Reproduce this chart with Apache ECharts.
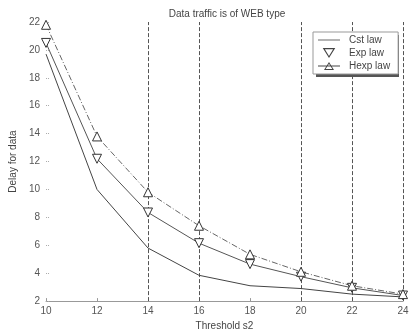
<!DOCTYPE html>
<html>
<head>
    <meta charset="utf-8">
</head>
<body style="margin:0">
    <div id="main" style="width: 412px;height:336px;"></div>
    <script src="https://cdn.jsdelivr.net/npm/echarts@6/dist/echarts.min.js"></script>
    <script type="text/javascript">
        var thresholdS2 = [10, 12, 14, 16, 18, 20, 22, 24];
        var cstLaw = [19.7, 10.0, 5.8, 3.85, 3.1, 2.9, 2.5, 2.3];
        var expLaw = [20.5, 12.2, 8.35, 6.15, 4.65, 3.75, 2.95, 2.4];
        var hexpLaw = [21.8, 13.8, 9.8, 7.4, 5.35, 4.1, 3.1, 2.5];
        var dashedLines = [14, 16, 20, 22, 24];

        var pairs = function (ys) {
            var res = [];
            for (var i = 0; i < thresholdS2.length; i++) {
                res.push([thresholdS2[i], ys[i]]);
            }
            return res;
        };

        // legend icons drawn as filled paths (hollow triangles use an inner reversed triangle)
        var iconLine = 'path://M0,4.6L0,5.4L22,5.4L22,4.6Z';
        var iconDown = 'path://M6,1L16,1L11,9Z M7.7,2L11,7.3L14.3,2Z';
        var iconUp = 'path://M0,4.6L0,5.4L22,5.4L22,4.6Z M6,9L16,9L11,1Z M7.7,8L11,2.7L14.3,8Z';

        var myChart = echarts.init(document.getElementById('main'));
        var txt = '#555';
        var font = 'Liberation Sans';

        var option = {
            animation: false,
            title: {
                text: 'Data traffic is of WEB type',
                left: 222,
                textAlign: 'center',
                top: 4,
                textStyle: { fontSize: 10, fontWeight: 'normal', color: '#444', fontFamily: font }
            },
            // drop shadow of the legend box
            graphic: [{
                type: 'rect',
                left: 316,
                top: 35,
                z: 20,
                shape: { width: 83, height: 42 },
                style: { fill: '#555' }
            }],
            legend: {
                orient: 'vertical',
                left: 313,
                top: 32,
                align: 'left',
                padding: [3, 8, 3, 5],
                itemGap: 3,
                itemWidth: 22,
                itemHeight: 10,
                z: 30,
                backgroundColor: '#fff',
                borderColor: '#999',
                borderWidth: 1,
                textStyle: { fontSize: 10, color: '#444', fontFamily: font, padding: [0, 0, 0, 4] },
                data: [
                    { name: 'Cst law', icon: iconLine, itemStyle: { color: '#444', borderWidth: 0 } },
                    { name: 'Exp law', icon: iconDown, itemStyle: { color: '#444', borderWidth: 0 } },
                    { name: 'Hexp law', icon: iconUp, itemStyle: { color: '#444', borderWidth: 0 } }
                ]
            },
            grid: { left: 41, right: 9, top: 22, bottom: 30 },
            xAxis: {
                type: 'value',
                min: 10, max: 24, interval: 2,
                name: 'Threshold s2',
                nameLocation: 'middle',
                nameGap: 17,
                nameTextStyle: { fontSize: 10, color: '#444', fontFamily: font },
                axisLine: { lineStyle: { color: '#999' } },
                axisTick: { inside: true, length: 3, lineStyle: { color: '#999' } },
                axisLabel: { fontSize: 10, color: txt, fontFamily: font, margin: 5 },
                splitLine: { show: false }
            },
            yAxis: {
                type: 'value',
                min: 2, max: 22, interval: 2,
                name: 'Delay for data',
                nameLocation: 'middle',
                nameGap: 25,
                nameTextStyle: { fontSize: 10, color: '#444', fontFamily: font },
                axisLine: { show: false },
                axisTick: { show: true, inside: true, length: 3, lineStyle: { color: '#aaa', type: 'dotted' } },
                axisLabel: { fontSize: 10, color: txt, fontFamily: font, margin: 6 },
                splitLine: { show: false }
            },
            series: [
                {
                    name: 'Cst law',
                    type: 'line',
                    z: 2,
                    data: pairs(cstLaw),
                    showSymbol: false,
                    symbol: 'none',
                    lineStyle: { color: '#444', width: 1 },
                    itemStyle: { color: '#444' },
                    markLine: {
                        silent: true,
                        symbol: 'none',
                        z: 1,
                        label: { show: false },
                        lineStyle: { color: '#555', type: [4, 2], width: 1 },
                        data: dashedLines.map(function (v) { return { xAxis: v }; })
                    }
                },
                {
                    name: 'Exp law',
                    type: 'line',
                    z: 2,
                    data: pairs(expLaw),
                    symbol: 'triangle',
                    symbolRotate: 180,
                    symbolSize: 9,
                    lineStyle: { color: '#555', width: 1 },
                    itemStyle: { color: '#fff', borderColor: '#333', borderWidth: 1 }
                },
                {
                    name: 'Hexp law',
                    type: 'line',
                    z: 2,
                    data: pairs(hexpLaw),
                    symbol: 'triangle',
                    symbolSize: 9,
                    lineStyle: { color: '#666', width: 1, type: [6, 2, 1, 2] },
                    itemStyle: { color: '#fff', borderColor: '#333', borderWidth: 1 }
                }
            ]
        };

        myChart.setOption(option);
    </script>
</body>
</html>
